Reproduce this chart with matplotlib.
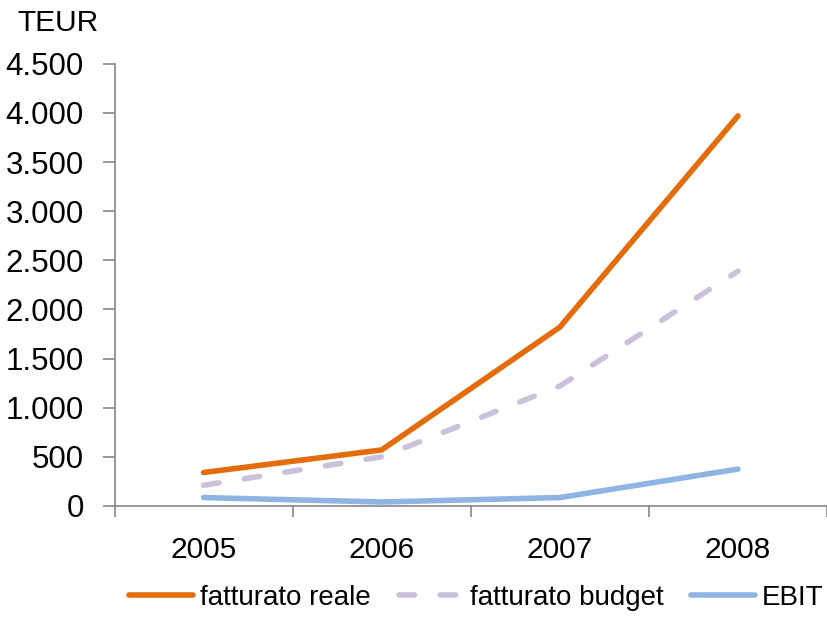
import numpy as np
import matplotlib.pyplot as plt
from matplotlib.ticker import FuncFormatter, FixedLocator

plt.rcParams['font.family'] = ['Liberation Sans', 'DejaVu Sans']

# values (TEUR)
years = ['2005', '2006', '2007', '2008']
fatturato_reale = [340, 570, 1820, 3970]
fatturato_budget = [210, 500, 1220, 2390]
ebit = [85, 40, 85, 375]

fig = plt.figure(figsize=(8.28, 6.2), dpi=100)
ax = fig.add_axes([0.1383, 0.184, 0.8605, 0.713])

x = np.arange(len(years))
lw = 4.0
ax.plot(x, fatturato_reale, color='#E46C0A', lw=lw, solid_capstyle='round',
        solid_joinstyle='round', label='fatturato reale')
ax.plot(x, fatturato_budget, color='#CCC1DA', lw=lw, dashes=(2.8, 4.6),
        dash_capstyle='round', label='fatturato budget')
ax.plot(x, ebit, color='#8EB4E3', lw=lw, solid_capstyle='round',
        solid_joinstyle='round', label='EBIT')

ax.set_xlim(-0.5, len(years) - 0.5)
ax.set_ylim(0, 4500)

# category axis: ticks between categories, labels centred
ax.xaxis.set_major_locator(FixedLocator(np.arange(-0.5, len(years), 1.0)))
ax.xaxis.set_minor_locator(FixedLocator(x))
ax.set_xticklabels([], minor=False)
ax.set_xticklabels(years, minor=True)
ax.tick_params(axis='x', which='major', length=8, width=1.2, color='#868686')
ax.tick_params(axis='x', which='minor', length=0, pad=22, labelsize=21.5)

ax.set_yticks(np.arange(0, 4501, 500))
ax.yaxis.set_major_formatter(FuncFormatter(lambda v, p: f'{int(v):,}'.replace(',', '.')))
ax.tick_params(axis='y', length=9, width=1.2, color='#868686', pad=13, labelsize=22.5)

for s in ['top', 'right']:
    ax.spines[s].set_visible(False)
for s in ['left', 'bottom']:
    ax.spines[s].set_color('#868686')
    ax.spines[s].set_linewidth(1.2)

fig.text(0.021, 0.963, 'TEUR', fontsize=21.5, va='center', ha='left')

fig.legend(loc='center', bbox_to_anchor=(0.5755, 0.0355), ncol=3, frameon=False,
           fontsize=20, handlelength=2.3, handletextpad=0.25, columnspacing=1.0,
           borderaxespad=0, borderpad=0)

fig.savefig('out.png', dpi=100)
